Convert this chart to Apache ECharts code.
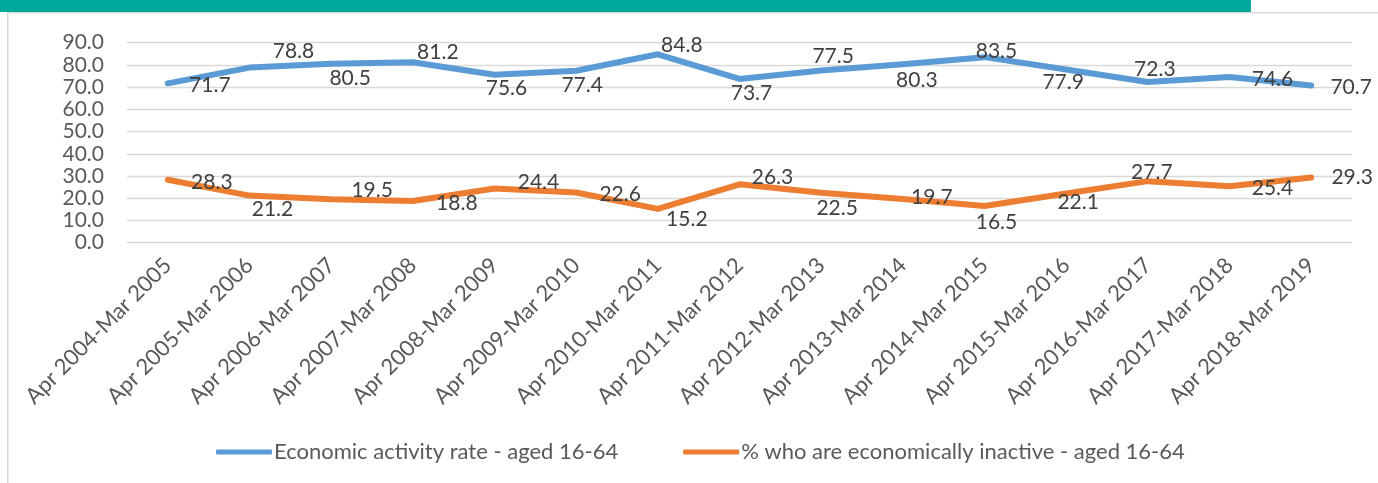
<!DOCTYPE html>
<html>
<head>
<meta charset="utf-8">
<script src="https://cdn.jsdelivr.net/npm/echarts@6/dist/echarts.min.js"></script>
<style>
  html, body { margin: 0; padding: 0; background: #fff; }
  #main { width: 1378px; height: 483px; }
</style>
</head>
<body>
<div id="main"></div>
<script>
var categories = ['Apr 2004-Mar 2005', 'Apr 2005-Mar 2006', 'Apr 2006-Mar 2007', 'Apr 2007-Mar 2008',
  'Apr 2008-Mar 2009', 'Apr 2009-Mar 2010', 'Apr 2010-Mar 2011', 'Apr 2011-Mar 2012',
  'Apr 2012-Mar 2013', 'Apr 2013-Mar 2014', 'Apr 2014-Mar 2015', 'Apr 2015-Mar 2016',
  'Apr 2016-Mar 2017', 'Apr 2017-Mar 2018', 'Apr 2018-Mar 2019'];
var activityRate = [71.7, 78.8, 80.5, 81.2, 75.6, 77.4, 84.8, 73.7, 77.5, 80.3, 83.5, 77.9, 72.3, 74.6, 70.7];
var inactiveRate = [28.3, 21.2, 19.5, 18.8, 24.4, 22.6, 15.2, 26.3, 22.5, 19.7, 16.5, 22.1, 27.7, 25.4, 29.3];
var seriesNames = ['Economic activity rate - aged 16-64', '% who are economically inactive - aged 16-64'];

// where each data label sits relative to its point (as placed in the original)
var activityLabelShift = [[42, 2], [44, -16], [19, 14], [25, -10], [12, 14], [6, 15], [24, -9], [12, 14],
  [12, -14], [14, 16], [12, -6], [-3, 13], [7, -13], [43, 2], [40, 2]];
var inactiveLabelShift = [[44, 2], [23, 14], [41, -9], [44, 2], [44, -6], [44, 2], [29, 10], [33, -7],
  [16, 16], [29, -2], [12, 16], [12, 9], [4, -9], [43, 2], [41, 0]];

var font = 'Lato, "Liberation Sans", sans-serif';

function withLabels(values, shifts) {
  return values.map(function (v, i) {
    return { value: v, label: { offset: shifts[i] } };
  });
}

var chart = echarts.init(document.getElementById('main'));

var option = {
  animation: false,
  backgroundColor: '#fff',
  graphic: [
    { type: 'rect', shape: { x: 0, y: 0, width: 1251, height: 12 }, style: { fill: '#00a99d' } },
    { type: 'rect', shape: { x: 8, y: 12, width: 1370, height: 1.5 }, style: { fill: '#d9d9d9' } },
    { type: 'rect', shape: { x: 7, y: 12, width: 1.5, height: 471 }, style: { fill: '#d9d9d9' } }
  ],
  grid: { left: 127, right: 26, top: 42.7, bottom: 240.3 },
  legend: {
    bottom: 15,
    left: 211,
    itemWidth: 56,
    itemHeight: 5,
    itemGap: 65,
    icon: 'roundRect',
    textStyle: { fontFamily: font, fontSize: 22, color: '#595959', padding: [0, 0, 0, -3] },
    data: seriesNames
  },
  xAxis: {
    type: 'category',
    data: categories,
    boundaryGap: true,
    axisLine: { show: false },
    axisTick: { show: false },
    axisLabel: { rotate: 45, margin: 19, interval: 0, fontFamily: font, fontSize: 22, color: '#595959' }
  },
  yAxis: {
    type: 'value',
    min: 0,
    max: 90,
    interval: 10,
    axisLine: { show: false },
    axisTick: { show: false },
    splitLine: { lineStyle: { color: '#d9d9d9', width: 1.3 } },
    axisLabel: {
      margin: 23, fontFamily: font, fontSize: 21, color: '#595959',
      formatter: function (v) { return v.toFixed(1); }
    }
  },
  series: [
    {
      name: seriesNames[0],
      type: 'line',
      data: withLabels(activityRate, activityLabelShift),
      symbol: 'circle',
      symbolSize: 1,
      lineStyle: { width: 6, color: '#5b9bd5', cap: 'round', join: 'round' },
      itemStyle: { color: '#5b9bd5' },
      label: {
        show: true, position: 'inside', fontFamily: font, fontSize: 21, color: '#404040',
        formatter: function (p) { return p.value.toFixed(1); }
      }
    },
    {
      name: seriesNames[1],
      type: 'line',
      data: withLabels(inactiveRate, inactiveLabelShift),
      symbol: 'circle',
      symbolSize: 1,
      lineStyle: { width: 6, color: '#ed7d31', cap: 'round', join: 'round' },
      itemStyle: { color: '#ed7d31' },
      label: {
        show: true, position: 'inside', fontFamily: font, fontSize: 21, color: '#404040',
        formatter: function (p) { return p.value.toFixed(1); }
      }
    }
  ]
};

chart.setOption(option);
</script>
</body>
</html>
